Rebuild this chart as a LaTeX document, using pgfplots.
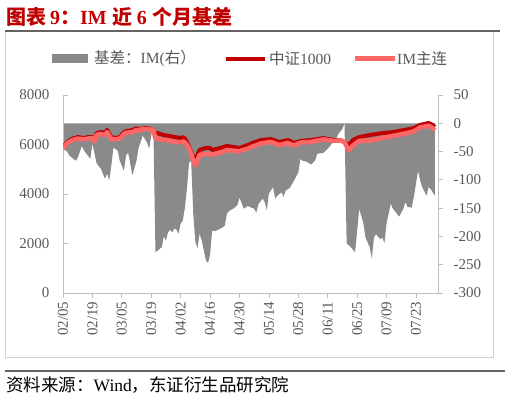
\documentclass[border=0pt]{standalone}
\usepackage{pgfplots}
\pgfplotsset{compat=1.18}
\usepackage{pgfplotstable}
\usepackage{fontspec}
\setmainfont{Liberation Serif}
\newfontfamily\cjk{Noto Sans CJK SC}
\definecolor{titlered}{RGB}{192,0,0}
\definecolor{spotred}{RGB}{192,0,0}
\definecolor{impink}{RGB}{255,102,102}
\definecolor{areagray}{RGB}{138,138,138}
\definecolor{ticklab}{RGB}{89,89,89}
\definecolor{axgray}{RGB}{191,191,191}
\definecolor{framegray}{RGB}{210,210,210}
\definecolor{rulegray}{RGB}{100,100,100}
\newcommand{\tickfont}{\fontsize{15bp}{17bp}\selectfont}
\newcommand{\legfont}{\fontsize{15.5bp}{18bp}\selectfont}

\pgfplotstableread{
day basis
0 0
0 -45
2 -50
3 -57
6 -66
7 -61
9 -40
10 -48
13 -63
14 -36
16 -71
18 -80
20 -98
21 -89
22 -101
23 -75
24 -43
26 -48
27 -66
29 -84
30 -57
31 -52
32 -71
33 -92
35 -66
36 -43
38 -22
40 -34
41 -45
42 -22
43 -1
44 -228
45 -225
47 -219
48 -200
49 -207
50 -193
51 -188
52 -193
53 -186
54 -188
55 -195
56 -177
57 -172
58 -150
59 -115
60 -70
61 -66
62 -160
63 -210
64 -221
65 -195
66 -207
67 -224
68 -242
69 -247
70 -233
71 -189
72 -191
74 -188
76 -184
77 -181
78 -160
79 -155
81 -151
83 -145
84 -131
85 -141
86 -151
88 -146
89 -148
91 -151
92 -158
93 -143
95 -133
96 -139
97 -154
98 -124
100 -113
101 -133
102 -128
104 -122
105 -130
106 -119
108 -114
110 -101
112 -87
113 -63
114 -66
116 -68
118 -73
120 -66
121 -54
124 -52
126 -45
128 -36
130 -28
131 -19
133 -10
134 0
135 -212
137 -219
139 -228
140 -191
141 -151
143 -177
144 -202
146 -219
147 -239
148 -202
149 -196
151 -205
152 -202
153 -212
154 -177
155 -160
156 -142
157 -151
159 -160
160 -165
162 -151
163 -139
164 -148
166 -149
167 -130
168 -107
169 -84
170 -101
171 -113
173 -128
174 -113
175 -116
177 -128
177 0
}\basisdata

\pgfplotstableread{
day spot im
0 5900 5855
2 6100 6050
4 6220 6160
7 6300 6240
10 6260 6212
12 6300 6242
14 6300 6264
15 6180 6125
16 6460 6389
18 6500 6420
20 6480 6382
21 6590 6501
23 6300 6225
25 6260 6215
27 6300 6234
29 6500 6416
30 6540 6483
33 6580 6488
35 6660 6594
36 6580 6537
38 6660 6638
40 6660 6626
42 6620 6598
43 6600 6599
44 6460 6232
45 6460 6235
48 6380 6180
51 6340 6152
53 6300 6114
56 6260 6083
57 6300 6128
58 6240 6090
59 6100 5985
60 5900 5830
61 5700 5634
62 5500 5340
63 5370 5160
64 5580 5359
65 5780 5585
68 5860 5618
70 5860 5627
71 5780 5591
75 5860 5674
78 5940 5780
81 5900 5749
84 5860 5729
88 5980 5834
90 6060 5910
93 6140 5997
94 6180 6042
99 6220 6102
103 6100 5975
107 6180 6063
110 6060 5959
113 6140 6077
118 6180 6107
124 6260 6208
129 6180 6148
132 6180 6166
134 6100 6100
136 5980 5765
138 6180 5955
141 6300 6149
146 6380 6161
152 6460 6258
157 6500 6349
162 6580 6429
167 6660 6530
170 6790 6689
174 6870 6757
176 6790 6670
177 6710 6582
}\linedata

\begin{document}
\begin{tikzpicture}[x=1bp,y=1bp]
\useasboundingbox (0,0) rectangle (510,400);
\draw[framegray, line width=0.75bp] (5,43) rectangle (493,369);
\draw[rulegray, line width=1.5bp] (5,369) -- (500,369);
\draw[rulegray, line width=1.5bp] (5,29) -- (505,29);
\node[anchor=base west, inner sep=0, text=titlered, font=\fontsize{20bp}{23bp}\selectfont\bfseries] at (6,376)
  {{\cjk 图表}\hspace{4bp}9{\cjk ：}IM\hspace{6bp}{\cjk 近}\hspace{4bp}6\hspace{6bp}{\cjk 个月基差}};
\node[anchor=west, inner sep=0, font=\fontsize{17.5bp}{20bp}\selectfont] at (6,15)
  {{\cjk 资料来源：}Wind{\cjk ，东证衍生品研究院}};

% legend
\fill[areagray] (52,337) rectangle (88,346);
\node[anchor=west, inner sep=0, text=ticklab, font=\legfont] at (94,341.5) {{\cjk 基差：}IM({\cjk 右）}};
\draw[spotred, line width=4bp] (226,341.5) -- (265,341.5);
\node[anchor=west, inner sep=0, text=ticklab, font=\legfont] at (269,341.5) {{\cjk 中证}1000};
\draw[impink, line width=4.5bp] (355,341.5) -- (395,341.5);
\node[anchor=west, inner sep=0, text=ticklab, font=\legfont] at (397,341.5) {IM{\cjk 主连}};

\begin{axis}[at={(63bp,107bp)}, anchor=south west, scale only axis,
  width=375bp, height=198bp,
  xmin=0, xmax=178.5, ymin=-300, ymax=50,
  axis x line*=bottom, axis y line*=right,
  axis line style={-, axgray, line width=0.75bp},
  tick style={axgray, line width=0.75bp}, tick align=outside, major tick length=5bp,
  xtick={0,14,...,168},
  xticklabels={02/05,02/19,03/05,03/19,04/02,04/16,04/30,05/14,05/28,06/11,06/25,07/09,07/23},
  xticklabel style={rotate=90, anchor=east, font=\tickfont, text=ticklab},
  ytick={-300,-250,...,50},
  yticklabel style={anchor=west, font=\tickfont, text=ticklab, xshift=7bp},
  /pgf/number format/assume math mode=true,
  ]
\addplot[fill=areagray, draw=none] table[x=day,y=basis]{\basisdata};
\end{axis}

\begin{axis}[at={(63bp,107bp)}, anchor=south west, scale only axis,
  width=375bp, height=198bp,
  xmin=0, xmax=178.5, ymin=0, ymax=8000,
  axis x line=none, axis y line*=left,
  axis line style={-, axgray, line width=0.75bp},
  tick style={axgray, line width=0.75bp}, tick align=inside, major tick length=5bp,
  ytick={0,2000,...,8000}, scaled y ticks=false,
  yticklabel style={anchor=east, font=\tickfont, text=ticklab, xshift=-10bp},
  /pgf/number format/assume math mode=true,
  /pgf/number format/set thousands separator={},
  ]
\addplot[spotred, line width=4bp, line join=round] table[x=day,y=spot]{\linedata};
\addplot[impink, line width=4.5bp, line join=round] table[x=day,y=im]{\linedata};
\end{axis}
\end{tikzpicture}
\end{document}
